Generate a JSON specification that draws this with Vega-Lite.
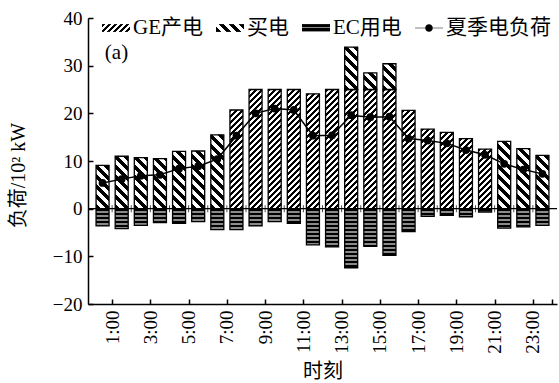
{
  "$schema": "https://vega.github.io/schema/vega-lite/v6.json",
  "width": 469,
  "height": 286,
  "autosize": {"type": "none"},
  "padding": {"left": 88, "top": 18, "right": 2, "bottom": 79},
  "background": "white",
  "config": {
    "view": {"stroke": null},
    "font": "Liberation Serif"
  },
  "resolve": {"axis": {"x": "independent", "y": "independent"}},
  "params": [
    {"name": "sGE", "value": [
      {"offset": 0, "color": "#000"}, {"offset": 0.02, "color": "#000"}, {"offset": 0.02, "color": "#fff"}, {"offset": 0.04, "color": "#fff"},
      {"offset": 0.04, "color": "#000"}, {"offset": 0.06, "color": "#000"}, {"offset": 0.06, "color": "#fff"}, {"offset": 0.08, "color": "#fff"},
      {"offset": 0.08, "color": "#000"}, {"offset": 0.10, "color": "#000"}, {"offset": 0.10, "color": "#fff"}, {"offset": 0.12, "color": "#fff"},
      {"offset": 0.12, "color": "#000"}, {"offset": 0.14, "color": "#000"}, {"offset": 0.14, "color": "#fff"}, {"offset": 0.16, "color": "#fff"},
      {"offset": 0.16, "color": "#000"}, {"offset": 0.18, "color": "#000"}, {"offset": 0.18, "color": "#fff"}, {"offset": 0.20, "color": "#fff"},
      {"offset": 0.20, "color": "#000"}, {"offset": 0.22, "color": "#000"}, {"offset": 0.22, "color": "#fff"}, {"offset": 0.24, "color": "#fff"},
      {"offset": 0.24, "color": "#000"}, {"offset": 0.26, "color": "#000"}, {"offset": 0.26, "color": "#fff"}, {"offset": 0.28, "color": "#fff"},
      {"offset": 0.28, "color": "#000"}, {"offset": 0.30, "color": "#000"}, {"offset": 0.30, "color": "#fff"}, {"offset": 0.32, "color": "#fff"},
      {"offset": 0.32, "color": "#000"}, {"offset": 0.34, "color": "#000"}, {"offset": 0.34, "color": "#fff"}, {"offset": 0.36, "color": "#fff"},
      {"offset": 0.36, "color": "#000"}, {"offset": 0.38, "color": "#000"}, {"offset": 0.38, "color": "#fff"}, {"offset": 0.40, "color": "#fff"},
      {"offset": 0.40, "color": "#000"}, {"offset": 0.42, "color": "#000"}, {"offset": 0.42, "color": "#fff"}, {"offset": 0.44, "color": "#fff"},
      {"offset": 0.44, "color": "#000"}, {"offset": 0.46, "color": "#000"}, {"offset": 0.46, "color": "#fff"}, {"offset": 0.48, "color": "#fff"},
      {"offset": 0.48, "color": "#000"}, {"offset": 0.50, "color": "#000"}, {"offset": 0.50, "color": "#fff"}, {"offset": 0.52, "color": "#fff"},
      {"offset": 0.52, "color": "#000"}, {"offset": 0.54, "color": "#000"}, {"offset": 0.54, "color": "#fff"}, {"offset": 0.56, "color": "#fff"},
      {"offset": 0.56, "color": "#000"}, {"offset": 0.58, "color": "#000"}, {"offset": 0.58, "color": "#fff"}, {"offset": 0.60, "color": "#fff"},
      {"offset": 0.60, "color": "#000"}, {"offset": 0.62, "color": "#000"}, {"offset": 0.62, "color": "#fff"}, {"offset": 0.64, "color": "#fff"},
      {"offset": 0.64, "color": "#000"}, {"offset": 0.66, "color": "#000"}, {"offset": 0.66, "color": "#fff"}, {"offset": 0.68, "color": "#fff"},
      {"offset": 0.68, "color": "#000"}, {"offset": 0.70, "color": "#000"}, {"offset": 0.70, "color": "#fff"}, {"offset": 0.72, "color": "#fff"},
      {"offset": 0.72, "color": "#000"}, {"offset": 0.74, "color": "#000"}, {"offset": 0.74, "color": "#fff"}, {"offset": 0.76, "color": "#fff"},
      {"offset": 0.76, "color": "#000"}, {"offset": 0.78, "color": "#000"}, {"offset": 0.78, "color": "#fff"}, {"offset": 0.80, "color": "#fff"},
      {"offset": 0.80, "color": "#000"}, {"offset": 0.82, "color": "#000"}, {"offset": 0.82, "color": "#fff"}, {"offset": 0.84, "color": "#fff"},
      {"offset": 0.84, "color": "#000"}, {"offset": 0.86, "color": "#000"}, {"offset": 0.86, "color": "#fff"}, {"offset": 0.88, "color": "#fff"},
      {"offset": 0.88, "color": "#000"}, {"offset": 0.90, "color": "#000"}, {"offset": 0.90, "color": "#fff"}, {"offset": 0.92, "color": "#fff"},
      {"offset": 0.92, "color": "#000"}, {"offset": 0.94, "color": "#000"}, {"offset": 0.94, "color": "#fff"}, {"offset": 0.96, "color": "#fff"},
      {"offset": 0.96, "color": "#000"}, {"offset": 0.98, "color": "#000"}, {"offset": 0.98, "color": "#fff"}, {"offset": 1, "color": "#fff"}
    ]},
    {"name": "sBuy", "value": [
      {"offset": 0, "color": "#000"}, {"offset": 0.05, "color": "#000"}, {"offset": 0.05, "color": "#fff"}, {"offset": 0.1, "color": "#fff"},
      {"offset": 0.1, "color": "#000"}, {"offset": 0.15, "color": "#000"}, {"offset": 0.15, "color": "#fff"}, {"offset": 0.2, "color": "#fff"},
      {"offset": 0.2, "color": "#000"}, {"offset": 0.25, "color": "#000"}, {"offset": 0.25, "color": "#fff"}, {"offset": 0.3, "color": "#fff"},
      {"offset": 0.3, "color": "#000"}, {"offset": 0.35, "color": "#000"}, {"offset": 0.35, "color": "#fff"}, {"offset": 0.4, "color": "#fff"},
      {"offset": 0.4, "color": "#000"}, {"offset": 0.45, "color": "#000"}, {"offset": 0.45, "color": "#fff"}, {"offset": 0.5, "color": "#fff"},
      {"offset": 0.5, "color": "#000"}, {"offset": 0.55, "color": "#000"}, {"offset": 0.55, "color": "#fff"}, {"offset": 0.6, "color": "#fff"},
      {"offset": 0.6, "color": "#000"}, {"offset": 0.65, "color": "#000"}, {"offset": 0.65, "color": "#fff"}, {"offset": 0.7, "color": "#fff"},
      {"offset": 0.7, "color": "#000"}, {"offset": 0.75, "color": "#000"}, {"offset": 0.75, "color": "#fff"}, {"offset": 0.8, "color": "#fff"},
      {"offset": 0.8, "color": "#000"}, {"offset": 0.85, "color": "#000"}, {"offset": 0.85, "color": "#fff"}, {"offset": 0.9, "color": "#fff"},
      {"offset": 0.9, "color": "#000"}, {"offset": 0.95, "color": "#000"}, {"offset": 0.95, "color": "#fff"}, {"offset": 1, "color": "#fff"}
    ]},
    {"name": "sEC", "value": [
      {"offset": 0, "color": "#000"}, {"offset": 0.032, "color": "#000"}, {"offset": 0.032, "color": "#8a8a8a"}, {"offset": 0.05, "color": "#8a8a8a"},
      {"offset": 0.05, "color": "#000"}, {"offset": 0.082, "color": "#000"}, {"offset": 0.082, "color": "#8a8a8a"}, {"offset": 0.10, "color": "#8a8a8a"},
      {"offset": 0.10, "color": "#000"}, {"offset": 0.132, "color": "#000"}, {"offset": 0.132, "color": "#8a8a8a"}, {"offset": 0.15, "color": "#8a8a8a"},
      {"offset": 0.15, "color": "#000"}, {"offset": 0.182, "color": "#000"}, {"offset": 0.182, "color": "#8a8a8a"}, {"offset": 0.20, "color": "#8a8a8a"},
      {"offset": 0.20, "color": "#000"}, {"offset": 0.232, "color": "#000"}, {"offset": 0.232, "color": "#8a8a8a"}, {"offset": 0.25, "color": "#8a8a8a"},
      {"offset": 0.25, "color": "#000"}, {"offset": 0.282, "color": "#000"}, {"offset": 0.282, "color": "#8a8a8a"}, {"offset": 0.30, "color": "#8a8a8a"},
      {"offset": 0.30, "color": "#000"}, {"offset": 0.332, "color": "#000"}, {"offset": 0.332, "color": "#8a8a8a"}, {"offset": 0.35, "color": "#8a8a8a"},
      {"offset": 0.35, "color": "#000"}, {"offset": 0.382, "color": "#000"}, {"offset": 0.382, "color": "#8a8a8a"}, {"offset": 0.40, "color": "#8a8a8a"},
      {"offset": 0.40, "color": "#000"}, {"offset": 0.432, "color": "#000"}, {"offset": 0.432, "color": "#8a8a8a"}, {"offset": 0.45, "color": "#8a8a8a"},
      {"offset": 0.45, "color": "#000"}, {"offset": 0.482, "color": "#000"}, {"offset": 0.482, "color": "#8a8a8a"}, {"offset": 0.50, "color": "#8a8a8a"},
      {"offset": 0.50, "color": "#000"}, {"offset": 0.532, "color": "#000"}, {"offset": 0.532, "color": "#8a8a8a"}, {"offset": 0.55, "color": "#8a8a8a"},
      {"offset": 0.55, "color": "#000"}, {"offset": 0.582, "color": "#000"}, {"offset": 0.582, "color": "#8a8a8a"}, {"offset": 0.60, "color": "#8a8a8a"},
      {"offset": 0.60, "color": "#000"}, {"offset": 0.632, "color": "#000"}, {"offset": 0.632, "color": "#8a8a8a"}, {"offset": 0.65, "color": "#8a8a8a"},
      {"offset": 0.65, "color": "#000"}, {"offset": 0.682, "color": "#000"}, {"offset": 0.682, "color": "#8a8a8a"}, {"offset": 0.70, "color": "#8a8a8a"},
      {"offset": 0.70, "color": "#000"}, {"offset": 0.732, "color": "#000"}, {"offset": 0.732, "color": "#8a8a8a"}, {"offset": 0.75, "color": "#8a8a8a"},
      {"offset": 0.75, "color": "#000"}, {"offset": 0.782, "color": "#000"}, {"offset": 0.782, "color": "#8a8a8a"}, {"offset": 0.80, "color": "#8a8a8a"},
      {"offset": 0.80, "color": "#000"}, {"offset": 0.832, "color": "#000"}, {"offset": 0.832, "color": "#8a8a8a"}, {"offset": 0.85, "color": "#8a8a8a"},
      {"offset": 0.85, "color": "#000"}, {"offset": 0.882, "color": "#000"}, {"offset": 0.882, "color": "#8a8a8a"}, {"offset": 0.90, "color": "#8a8a8a"},
      {"offset": 0.90, "color": "#000"}, {"offset": 0.932, "color": "#000"}, {"offset": 0.932, "color": "#8a8a8a"}, {"offset": 0.95, "color": "#8a8a8a"},
      {"offset": 0.95, "color": "#000"}, {"offset": 0.982, "color": "#000"}, {"offset": 0.982, "color": "#8a8a8a"}, {"offset": 1, "color": "#8a8a8a"}
    ]}
  ],
  "datasets": {
    "bars": [
      {"t": 0.5, "s": "买电", "v": 9.1}, {"t": 0.5, "s": "EC用电", "v": -3.6},
      {"t": 1.5, "s": "买电", "v": 11.0}, {"t": 1.5, "s": "EC用电", "v": -4.2},
      {"t": 2.5, "s": "买电", "v": 10.7}, {"t": 2.5, "s": "EC用电", "v": -3.5},
      {"t": 3.5, "s": "买电", "v": 10.5}, {"t": 3.5, "s": "EC用电", "v": -2.9},
      {"t": 4.5, "s": "买电", "v": 12.0}, {"t": 4.5, "s": "EC用电", "v": -3.1},
      {"t": 5.5, "s": "买电", "v": 12.1}, {"t": 5.5, "s": "EC用电", "v": -2.7},
      {"t": 6.5, "s": "买电", "v": 15.5}, {"t": 6.5, "s": "EC用电", "v": -4.4},
      {"t": 7.5, "s": "GE产电", "v": 20.7}, {"t": 7.5, "s": "EC用电", "v": -4.4},
      {"t": 8.5, "s": "GE产电", "v": 25.0}, {"t": 8.5, "s": "EC用电", "v": -3.6},
      {"t": 9.5, "s": "GE产电", "v": 25.0}, {"t": 9.5, "s": "EC用电", "v": -2.7},
      {"t": 10.5, "s": "GE产电", "v": 25.0}, {"t": 10.5, "s": "EC用电", "v": -3.1},
      {"t": 11.5, "s": "GE产电", "v": 24.1}, {"t": 11.5, "s": "EC用电", "v": -7.6},
      {"t": 12.5, "s": "GE产电", "v": 25.0}, {"t": 12.5, "s": "EC用电", "v": -8.0},
      {"t": 13.5, "s": "GE产电", "v": 25.0}, {"t": 13.5, "s": "买电", "v": 8.9}, {"t": 13.5, "s": "EC用电", "v": -12.4},
      {"t": 14.5, "s": "GE产电", "v": 25.0}, {"t": 14.5, "s": "买电", "v": 3.5}, {"t": 14.5, "s": "EC用电", "v": -7.9},
      {"t": 15.5, "s": "GE产电", "v": 25.0}, {"t": 15.5, "s": "买电", "v": 5.4}, {"t": 15.5, "s": "EC用电", "v": -9.8},
      {"t": 16.5, "s": "GE产电", "v": 20.6}, {"t": 16.5, "s": "EC用电", "v": -4.8},
      {"t": 17.5, "s": "GE产电", "v": 16.7}, {"t": 17.5, "s": "EC用电", "v": -1.6},
      {"t": 18.5, "s": "GE产电", "v": 16.0}, {"t": 18.5, "s": "EC用电", "v": -1.4},
      {"t": 19.5, "s": "GE产电", "v": 14.7}, {"t": 19.5, "s": "EC用电", "v": -1.7},
      {"t": 20.5, "s": "GE产电", "v": 12.5}, {"t": 20.5, "s": "EC用电", "v": -0.7},
      {"t": 21.5, "s": "买电", "v": 14.1}, {"t": 21.5, "s": "EC用电", "v": -4.1},
      {"t": 22.5, "s": "买电", "v": 12.6}, {"t": 22.5, "s": "EC用电", "v": -3.8},
      {"t": 23.5, "s": "买电", "v": 11.2}, {"t": 23.5, "s": "EC用电", "v": -3.5}
    ],
    "load": [
      {"t": 0.5, "s": "夏季电负荷", "load": 5.4}, {"t": 1.5, "s": "夏季电负荷", "load": 6.2},
      {"t": 2.5, "s": "夏季电负荷", "load": 6.9}, {"t": 3.5, "s": "夏季电负荷", "load": 7.1},
      {"t": 4.5, "s": "夏季电负荷", "load": 8.4}, {"t": 5.5, "s": "夏季电负荷", "load": 8.9},
      {"t": 6.5, "s": "夏季电负荷", "load": 10.4}, {"t": 7.5, "s": "夏季电负荷", "load": 15.3},
      {"t": 8.5, "s": "夏季电负荷", "load": 20.0}, {"t": 9.5, "s": "夏季电负荷", "load": 21.0},
      {"t": 10.5, "s": "夏季电负荷", "load": 20.7}, {"t": 11.5, "s": "夏季电负荷", "load": 15.3},
      {"t": 12.5, "s": "夏季电负荷", "load": 15.4}, {"t": 13.5, "s": "夏季电负荷", "load": 19.6},
      {"t": 14.5, "s": "夏季电负荷", "load": 19.2}, {"t": 15.5, "s": "夏季电负荷", "load": 19.3},
      {"t": 16.5, "s": "夏季电负荷", "load": 14.7}, {"t": 17.5, "s": "夏季电负荷", "load": 14.3},
      {"t": 18.5, "s": "夏季电负荷", "load": 13.7}, {"t": 19.5, "s": "夏季电负荷", "load": 12.3},
      {"t": 20.5, "s": "夏季电负荷", "load": 11.3}, {"t": 21.5, "s": "夏季电负荷", "load": 9.4},
      {"t": 22.5, "s": "夏季电负荷", "load": 8.2}, {"t": 23.5, "s": "夏季电负荷", "load": 7.3}
    ],
    "edges": [
      {"h": 1}, {"h": 2}, {"h": 3}, {"h": 4}, {"h": 5}, {"h": 6}, {"h": 7}, {"h": 8},
      {"h": 9}, {"h": 10}, {"h": 11}, {"h": 12}, {"h": 13}, {"h": 14}, {"h": 15}, {"h": 16},
      {"h": 17}, {"h": 18}, {"h": 19}, {"h": 20}, {"h": 21}, {"h": 22}, {"h": 23}
    ],
    "panel": [{"label": "(a)"}]
  },
  "layer": [
    {
      "data": {"name": "bars"},
      "mark": {
        "type": "bar",
        "width": 13,
        "stroke": "black",
        "strokeWidth": 1.3,
        "fill": {"expr": "datum.s === 'EC用电' ? {gradient: 'linear', x1: 0, y1: 0, x2: 0, y2: 80 / max(1, abs(scale('y', datum.v_end) - scale('y', datum.v_start))), stops: sEC} : datum.s === 'GE产电' ? {gradient: 'linear', x1: 0, y1: 0, x2: 1950 / (169 + pow(scale('y', datum.v_end) - scale('y', datum.v_start), 2)), y2: 150 * abs(scale('y', datum.v_end) - scale('y', datum.v_start)) / (169 + pow(scale('y', datum.v_end) - scale('y', datum.v_start), 2)), stops: sGE} : {gradient: 'linear', x1: 0, y1: 1, x2: 1300 / (169 + pow(scale('y', datum.v_end) - scale('y', datum.v_start), 2)), y2: 1 - 100 * abs(scale('y', datum.v_end) - scale('y', datum.v_start)) / (169 + pow(scale('y', datum.v_end) - scale('y', datum.v_start), 2)), stops: sBuy}"}
      },
      "encoding": {
        "x": {
          "field": "t",
          "type": "quantitative",
          "title": "时刻",
          "scale": {"domain": [0, 24], "nice": false, "zero": false},
          "axis": {
            "values": [1, 3, 5, 7, 9, 11, 13, 15, 17, 19, 21, 23, 24],
            "labelExpr": "datum.value === 24 ? '' : datum.value + ':00'",
            "labelOverlap": false,
            "labelAngle": -90,
            "labelFont": "Liberation Serif",
            "labelFontSize": 19,
            "labelColor": "black",
            "labelPadding": 11,
            "grid": false,
            "domainColor": "black",
            "domainWidth": 1.5,
            "tickColor": "black",
            "tickWidth": 1.5,
            "tickSize": -5,
            "titleFont": "Noto Sans CJK SC",
            "titleFontSize": 20,
            "titleFontWeight": "normal",
            "titleColor": "black",
            "titleY": 67,
            "titleBaseline": "middle"
          }
        },
        "y": {
          "field": "v",
          "type": "quantitative",
          "stack": "zero",
          "title": "负荷/10² kW",
          "scale": {"domain": [-20, 40], "nice": false},
          "axis": {
            "values": [-20, -10, 0, 10, 20, 30, 40],
            "labelOverlap": false,
            "labelFont": "Liberation Serif",
            "labelFontSize": 19,
            "labelColor": "black",
            "labelPadding": 11,
            "grid": false,
            "domainColor": "black",
            "domainWidth": 1.5,
            "tickColor": "black",
            "tickWidth": 1.5,
            "tickSize": -5,
            "titleFont": "Liberation Serif, Noto Sans CJK SC",
            "titleFontSize": 20,
            "titleFontWeight": "normal",
            "titleColor": "black",
            "titleX": -70,
            "titleY": 157,
            "titleBaseline": "middle"
          }
        },
        "detail": {"field": "s"},
        "order": {"field": "s"}
      }
    },
    {
      "data": {"name": "edges"},
      "mark": {"type": "tick", "orient": "vertical", "size": 7, "thickness": 1, "color": "black"},
      "encoding": {
        "x": {"field": "h", "type": "quantitative", "axis": null},
        "y": {"datum": 0, "axis": null}
      }
    },
    {
      "data": {"name": "panel"},
      "mark": {"type": "rule", "color": "black", "strokeWidth": 1.2},
      "encoding": {"y": {"datum": 0, "axis": null}}
    },
    {
      "data": {"name": "load"},
      "mark": {"type": "line", "color": "black", "strokeWidth": 1.5},
      "encoding": {
        "x": {"field": "t", "type": "quantitative", "axis": null},
        "y": {"field": "load", "type": "quantitative", "axis": null}
      }
    },
    {
      "data": {"name": "load"},
      "mark": {"type": "point", "filled": true, "color": "black", "size": 60, "opacity": 1},
      "encoding": {
        "x": {"field": "t", "type": "quantitative", "axis": null},
        "y": {"field": "load", "type": "quantitative", "axis": null}
      }
    },
    {
      "data": {"name": "load"},
      "transform": [{"filter": "false"}],
      "mark": {"type": "point", "filled": true, "opacity": 1},
      "encoding": {
        "fill": {
          "field": "s",
          "type": "nominal",
          "scale": {
            "domain": ["GE产电", "买电", "EC用电", "夏季电负荷"],
            "range": [
              {"expr": "{gradient: 'linear', x1: 0, y1: 0, x2: 4.967, y2: 1.391, stops: sGE}"},
              {"expr": "{gradient: 'linear', x1: 0, y1: 1, x2: 3.312, y2: 0.073, stops: sBuy}"},
              {"expr": "{gradient: 'linear', x1: 0, y1: 0, x2: 0, y2: 10.2, stops: sEC}"},
              "black"
            ]
          },
          "legend": {
            "title": null,
            "orient": "none",
            "legendX": 13,
            "legendY": -5,
            "direction": "horizontal",
            "symbolSize": 784,
            "symbolStrokeColor": "black",
            "symbolStrokeWidth": 1.2,
            "symbolOpacity": 1,
            "labelFont": "Liberation Serif, Noto Sans CJK SC",
            "labelFontSize": 21,
            "labelColor": "black",
            "labelOffset": 2,
            "labelLimit": 300,
            "columnPadding": 10
          }
        },
        "shape": {
          "field": "s",
          "type": "nominal",
          "scale": {
            "domain": ["GE产电", "买电", "EC用电", "夏季电负荷"],
            "range": [
              "M-1,-0.28H1V0.28H-1Z",
              "M-1,-0.28H1V0.28H-1Z",
              "M-1,-0.28H1V0.28H-1Z",
              "M-1,-0.025H-0.2V0.025H-1Z M0.2,-0.025H1V0.025H0.2Z M-0.27,0A0.27,0.27 0 1,1 0.27,0A0.27,0.27 0 1,1 -0.27,0Z"
            ]
          },
          "legend": {
            "title": null,
            "orient": "none",
            "legendX": 13,
            "legendY": -5,
            "direction": "horizontal",
            "symbolSize": 784,
            "symbolStrokeColor": "black",
            "symbolStrokeWidth": 1.2,
            "symbolOpacity": 1,
            "labelFont": "Liberation Serif, Noto Sans CJK SC",
            "labelFontSize": 21,
            "labelColor": "black",
            "labelOffset": 2,
            "labelLimit": 300,
            "columnPadding": 10
          }
        }
      }
    },
    {
      "data": {"name": "panel"},
      "mark": {"type": "text", "align": "left", "baseline": "alphabetic", "fontSize": 21, "font": "Liberation Serif", "color": "black"},
      "encoding": {
        "x": {"datum": 0.62, "axis": null},
        "y": {"datum": 31.5, "axis": null},
        "text": {"field": "label"}
      }
    }
  ]
}
